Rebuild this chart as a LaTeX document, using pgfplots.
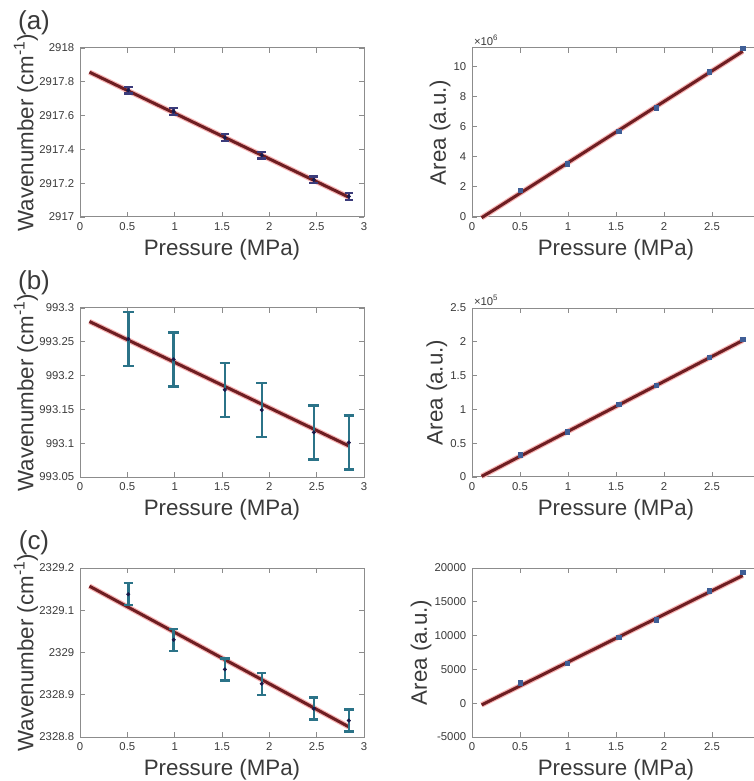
\documentclass[border=0pt]{standalone}
\usepackage{fontspec}
\setmainfont{Liberation Sans}
\usepackage{pgfplots}
\pgfplotsset{compat=1.18}

\definecolor{fitred}{HTML}{6E1E22}
\definecolor{glow}{HTML}{F7B4B4}
\definecolor{errnavy}{HTML}{3B3B7A}
\definecolor{errteal}{HTML}{2B7388}
\definecolor{ptnavy}{HTML}{1A1A4A}
\definecolor{mkblue}{HTML}{3F5E96}
\definecolor{axgray}{HTML}{8C8C8C}
\definecolor{txgray}{HTML}{3A3A3A}

\tikzset{sc/.style={anchor=south west, font=\fontsize{6.8}{8}\selectfont, text=txgray, inner sep=1pt}}

\pgfplotsset{
  panel/.style={
    scale only axis,
    anchor=north west,
    height=169*0.6pt,
    xmin=0, xmax=3,
    xtick={0,0.5,1,1.5,2,2.5,3},
    tick align=inside,
    major tick length=3pt,
    axis line style={axgray, line width=0.6pt},
    every tick/.style={axgray, line width=0.5pt},
    tick label style={font=\fontsize{6.8}{8}\selectfont, text=txgray},
    label style={font=\fontsize{13.4}{15}\selectfont, text=txgray},
    xlabel={Pressure (MPa)},
    xlabel style={yshift=2pt},
    scaled ticks=false,
    /pgf/number format/assume math mode=true,
    /pgf/number format/1000 sep={},
    clip=false,
  },
  leftpanel/.style={panel, width=284*0.6pt, ylabel={Wavenumber (cm\textsuperscript{-1})}, ylabel shift=-6pt},
  rightpanel/.style={panel, width=288*0.6pt, ylabel={Area (a.u.)}, ylabel shift=-5pt},
  fitline/.style={no marks, line width=1.8pt, fitred, preaction={draw=glow, line width=3.2pt}},
}

\begin{document}
\begin{tikzpicture}
\clip (0,0) rectangle (754*0.6pt,-781*0.6pt);

% ---------------- (a) ----------------
\node[anchor=center, font=\fontsize{15.6}{17}\selectfont, text=txgray] at (34*0.6pt,-23*0.6pt) {(a)};
\begin{axis}[leftpanel, at={(80*0.6pt,-48*0.6pt)},
    ymin=2917, ymax=2918, ytick={2917,2917.2,...,2918},
    yticklabel style={/pgf/number format/.cd, fixed, precision=1}]
  \addplot[fitline] coordinates {(0.1,2917.857) (2.84,2917.117)};
  \addplot[only marks, mark=*, mark size=1pt, ptnavy,
    error bars/.cd, y dir=both, y explicit,
    error bar style={errnavy, line width=1.5pt},
    error mark options={rotate=90, mark size=2.6pt, errnavy, line width=1.5pt}]
    coordinates {
    (0.51,2917.750) +- (0,0.020)
    (0.99,2917.625) +- (0,0.020)
    (1.53,2917.470) +- (0,0.020)
    (1.92,2917.365) +- (0,0.020)
    (2.47,2917.220) +- (0,0.020)
    (2.84,2917.122) +- (0,0.020)
  };
\end{axis}
\begin{axis}[rightpanel, at={(472*0.6pt,-48*0.6pt)},
    ymin=0, ymax=11.2, ytick={0,2,...,10}]
  \addplot[fitline] coordinates {(0.1,-0.05) (2.82,10.98)};
  \addplot[only marks, mark=square*, mark size=1.3pt, mkblue] coordinates {
    (0.50,1.77) (0.99,3.53) (1.53,5.67) (1.92,7.24) (2.47,9.62) (2.82,11.19)
  };
  \node[sc] at (rel axis cs:0,1) {×10\textsuperscript{6}};
\end{axis}

% ---------------- (b) ----------------
\node[anchor=center, font=\fontsize{15.6}{17}\selectfont, text=txgray] at (34*0.6pt,-283*0.6pt) {(b)};
\begin{axis}[leftpanel, at={(80*0.6pt,-308*0.6pt)},
    ymin=993.05, ymax=993.3, ytick={993.05,993.1,993.15,993.2,993.25,993.3},
    yticklabel style={/pgf/number format/.cd, fixed, precision=2}]
  \addplot[fitline] coordinates {(0.1,993.280) (2.84,993.096)};
  \addplot[only marks, mark=*, mark size=1pt, ptnavy,
    error bars/.cd, y dir=both, y explicit,
    error bar style={errteal, line width=1.5pt},
    error mark options={rotate=90, mark size=3.2pt, errteal, line width=1.5pt}]
    coordinates {
    (0.51,993.254) +- (0,0.040)
    (0.99,993.224) +- (0,0.040)
    (1.53,993.179) +- (0,0.040)
    (1.92,993.149) +- (0,0.040)
    (2.47,993.116) +- (0,0.040)
    (2.84,993.101) +- (0,0.040)
  };
\end{axis}
\begin{axis}[rightpanel, at={(472*0.6pt,-308*0.6pt)},
    ymin=0, ymax=2.5, ytick={0,0.5,...,2.5}]
  \addplot[fitline] coordinates {(0.1,0.01) (2.82,2.02)};
  \addplot[only marks, mark=square*, mark size=1.3pt, mkblue] coordinates {
    (0.50,0.33) (0.99,0.666) (1.53,1.075) (1.92,1.36) (2.47,1.77) (2.82,2.04)
  };
  \node[sc] at (rel axis cs:0,1) {×10\textsuperscript{5}};
\end{axis}

% ---------------- (c) ----------------
\node[anchor=center, font=\fontsize{15.6}{17}\selectfont, text=txgray] at (34*0.6pt,-543*0.6pt) {(c)};
\begin{axis}[leftpanel, at={(80*0.6pt,-568*0.6pt)},
    ymin=2328.8, ymax=2329.2, ytick={2328.8,2328.9,2329,2329.1,2329.2},
    yticklabel style={/pgf/number format/.cd, fixed, precision=1}]
  \addplot[fitline] coordinates {(0.1,2329.157) (2.84,2328.824)};
  \addplot[only marks, mark=*, mark size=1pt, ptnavy,
    error bars/.cd, y dir=both, y explicit,
    error bar style={errteal, line width=1.5pt},
    error mark options={rotate=90, mark size=2.8pt, errteal, line width=1.5pt}]
    coordinates {
    (0.51,2329.138) +- (0,0.026)
    (0.99,2329.030) +- (0,0.026)
    (1.53,2328.960) +- (0,0.026)
    (1.92,2328.926) +- (0,0.026)
    (2.47,2328.867) +- (0,0.026)
    (2.84,2328.839) +- (0,0.026)
  };
\end{axis}
\begin{axis}[rightpanel, at={(472*0.6pt,-568*0.6pt)},
    ymin=-5000, ymax=20000, ytick={-5000,0,5000,10000,15000,20000}]
  \addplot[fitline] coordinates {(0.1,-250) (2.82,18890)};
  \addplot[only marks, mark=square*, mark size=1.3pt, mkblue] coordinates {
    (0.50,3000) (0.99,5870) (1.53,9760) (1.92,12330) (2.47,16620) (2.82,19330)
  };
\end{axis}
\end{tikzpicture}
\end{document}
